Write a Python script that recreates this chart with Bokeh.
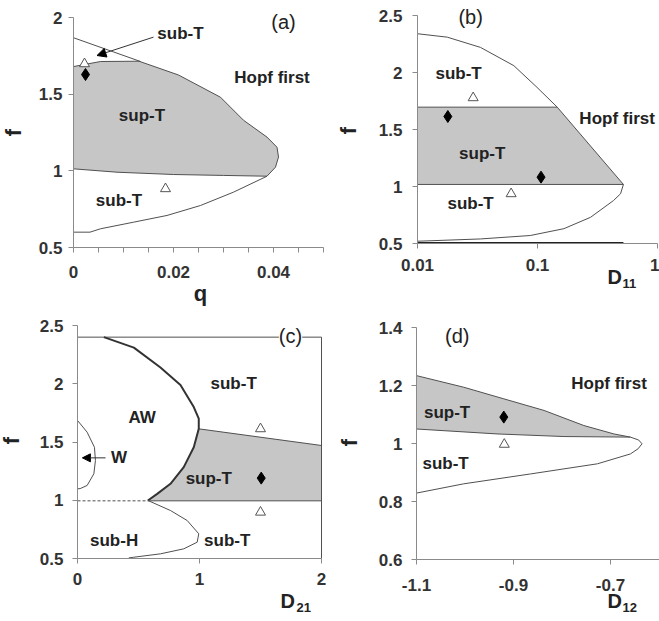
from math import pi, log10
from bokeh.plotting import figure
from bokeh.layouts import gridplot
from bokeh.models import Range1d, Label, Arrow, NormalHead, FixedTicker
from bokeh.embed import file_html
from bokeh.resources import INLINE

# ---------------- data: panel (a) ----------------
a_line_q = [0.0, 0.0134]
a_line_f = [1.868, 1.713]
a_sup_q = [0.0, 0.0054, 0.0131, 0.021, 0.0294, 0.034, 0.0387, 0.0407, 0.041, 0.0404, 0.0387,
           0.030, 0.020, 0.0087, 0.0]
a_sup_f = [1.68, 1.713, 1.715, 1.625, 1.48, 1.33, 1.22, 1.154, 1.09, 1.024, 0.965,
           0.970, 0.976, 0.991, 1.013]
a_low_q = [0.0387, 0.032, 0.0254, 0.0187, 0.012, 0.0054, 0.0033, 0.0]
a_low_f = [0.965, 0.861, 0.774, 0.709, 0.665, 0.622, 0.60, 0.60]
a_tri_q = [0.0022, 0.0184]
a_tri_f = [1.698, 0.883]
a_dia_q = [0.0024]
a_dia_f = [1.628]

# ---------------- data: panel (b) ----------------
b_up_D = [0.01, 0.0177, 0.0335, 0.0635, 0.099, 0.146]
b_up_f = [2.34, 2.31, 2.22, 2.06, 1.87, 1.696]
b_sup_D = [0.01, 0.146, 0.52, 0.01]
b_sup_f = [1.696, 1.696, 1.018, 1.018]
b_low_D = [0.52, 0.492, 0.43, 0.277, 0.166, 0.087, 0.0335, 0.01]
b_low_f = [1.018, 0.936, 0.877, 0.73, 0.63, 0.57, 0.54, 0.52]
b_base_D = [0.01, 0.52]
b_base_f = [0.505, 0.505]
b_tri_D = [0.0291, 0.0603]
b_tri_f = [1.778, 0.936]
b_dia_D = [0.0179, 0.107]
b_dia_f = [1.614, 1.082]

# ---------------- data: panel (c) ----------------
c_top_D = [0.0, 2.0]
c_top_f = [2.4, 2.4]
c_right_D = [2.0, 2.0]
c_right_f = [0.5, 2.4]
c_aw_D = [0.216, 0.462, 0.68, 0.844, 0.953, 0.994, 0.994, 0.953, 0.871, 0.762, 0.653, 0.577]
c_aw_f = [2.4, 2.31, 2.14, 1.99, 1.80, 1.70, 1.613, 1.455, 1.284, 1.141, 1.055, 0.998]
c_sup_D = [0.994, 2.0, 2.0, 0.577, 0.653, 0.762, 0.871, 0.953]
c_sup_f = [1.613, 1.47, 0.995, 0.995, 1.055, 1.141, 1.284, 1.455]
c_supline_D = [0.994, 2.0]
c_supline_f = [1.613, 1.47]
c_bot_D = [0.577, 2.0]
c_bot_f = [0.995, 0.995]
c_dash_D = [0.0, 0.577]
c_dash_f = [0.995, 0.995]
c_low_D = [0.577, 0.762, 0.899, 0.994, 0.981, 0.871, 0.68, 0.462, 0.42]
c_low_f = [0.998, 0.912, 0.826, 0.712, 0.64, 0.583, 0.54, 0.511, 0.505]
c_w_D = [0.0, 0.079, 0.139, 0.147, 0.134, 0.079, 0.022, 0.0]
c_w_f = [1.685, 1.584, 1.455, 1.34, 1.227, 1.127, 1.10, 1.098]
c_tri_D = [1.5, 1.5]
c_tri_f = [1.613, 0.897]
c_dia_D = [1.506]
c_dia_f = [1.19]

# ---------------- data: panel (d) ----------------
d_up_D = [-1.1, -1.0025, -0.92, -0.837, -0.755, -0.693, -0.659]
d_up_f = [1.234, 1.194, 1.154, 1.114, 1.062, 1.033, 1.022]
d_mid_D = [-0.659, -0.796, -0.934, -1.1]
d_mid_f = [1.022, 1.024, 1.033, 1.05]
d_low_D = [-0.659, -0.642, -0.635, -0.643, -0.659, -0.727, -0.865, -1.0025, -1.1]
d_low_f = [1.022, 1.012, 0.999, 0.982, 0.964, 0.93, 0.895, 0.861, 0.829]
d_tri_D = [-0.919]
d_tri_f = [0.997]
d_dia_D = [-0.92]
d_dia_f = [1.091]

# ---------------- ticks ----------------
a_xticks = [0.0, 0.005, 0.01, 0.015, 0.02, 0.025, 0.03, 0.035, 0.04, 0.045, 0.05]
a_xlabels = ["0", "", "", "", "0.02", "", "", "", "0.04", "", ""]
a_yticks = [0.5, 1.0, 1.5, 2.0]
a_ylabels = ["0.5", "1", "1.5", "2"]
b_xticks = [0.01, 0.1, 1.0]
b_xlabels = ["0.01", "0.1", "1"]
b_yticks = [0.5, 1.0, 1.5, 2.0, 2.5]
b_ylabels = ["0.5", "1", "1.5", "2", "2.5"]
c_xticks = [0.0, 1.0, 2.0]
c_xlabels = ["0", "1", "2"]
c_yticks = [0.5, 1.0, 1.5, 2.0, 2.5]
c_ylabels = ["0.5", "1", "1.5", "2", "2.5"]
d_xticks = [-1.1, -0.9, -0.7]
d_xlabels = ["-1.1", "-0.9", "-0.7"]
d_yticks = [0.6, 0.8, 1.0, 1.2, 1.4]
d_ylabels = ["0.6", "0.8", "1", "1.2", "1.4"]

FONT = "Liberation Sans"
LINE = "#505050"
FILL = "#c6c6c6"
TXT = "#222222"
AX = "#8a8a8a"


class Panel:
    """Maps page pixels to data values for one figure whose frame fills its canvas."""

    def __init__(self, left, top, w, h, xa, ya, xlog=False):
        self.left, self.top, self.w, self.h = left, top, w, h
        self.xa, self.ya, self.xlog = xa, ya, xlog

    def x(self, px):
        p0, v0, s = self.xa
        if self.xlog:
            return v0 * 10 ** ((px - p0) / s)
        return v0 + (px - p0) / s

    def y(self, py):
        p0, v0, s = self.ya
        return v0 + (p0 - py) / s


def make_fig(P, xb, yb, xticks, xlabels, yticks, ylabels, xstand, ystand):
    p = figure(width=P.w, height=P.h,
               x_range=Range1d(P.x(P.left), P.x(P.left + P.w)),
               y_range=Range1d(P.y(P.top + P.h), P.y(P.top)),
               x_axis_type="log" if P.xlog else "linear",
               output_backend="svg", toolbar_location=None,
               min_border_left=0, min_border_right=0, min_border_top=0, min_border_bottom=0)
    p.grid.visible = False
    p.outline_line_color = None
    p.background_fill_color = "white"
    p.border_fill_color = "white"
    p.xaxis.ticker = FixedTicker(ticks=xticks)
    p.yaxis.ticker = FixedTicker(ticks=yticks)
    p.xaxis.major_label_overrides = {t: l for t, l in zip(xticks, xlabels)}
    p.yaxis.major_label_overrides = {t: l for t, l in zip(yticks, ylabels)}
    p.xaxis.fixed_location = yb[0]
    p.yaxis.fixed_location = xb[0]
    p.xaxis.bounds = xb
    p.yaxis.bounds = yb
    p.xaxis.major_label_standoff = xstand
    p.yaxis.major_label_standoff = ystand
    for ax in p.axis:
        ax.axis_line_color = AX
        ax.major_tick_line_color = AX
        ax.minor_tick_line_color = None
        ax.major_tick_in = 0
        ax.major_tick_out = 5
        ax.major_label_text_font = FONT
        ax.major_label_text_font_style = "bold"
        ax.major_label_text_font_size = "17px"
        ax.major_label_text_color = "#333333"
    return p


def txt(p, x, y, s, size="17px", bold=True, align="center", angle=0.0, bg=None):
    lab = Label(x=x, y=y, text=s, text_font=FONT, text_font_size=size,
                text_font_style="bold" if bold else "normal", text_color=TXT,
                text_align=align, text_baseline="middle", angle=angle)
    if bg:
        lab.background_fill_color = bg
    p.add_layout(lab)


def ptxt(p, P, px, py, s, **kw):
    txt(p, P.x(px), P.y(py), s, **kw)


def tri(p, x, y):
    p.scatter(x, y, marker="triangle", size=10, fill_color="white", line_color="#555555", line_width=1)


def dia(p, x, y):
    p.scatter(x, y, marker="diamond", size=12, fill_color="black", line_color="black")


# ---------------- panel (a) ----------------
PA = Panel(0, 0, 335, 308, (73, 0.0, 5000.0), (247, 0.5, 153.33))
pa = make_fig(PA, (0.0, 0.05), (0.5, 2.0), a_xticks, a_xlabels, a_yticks, a_ylabels, 13, 6)
pa.patch(a_sup_q, a_sup_f, fill_color=FILL, line_color=LINE, line_width=1)
pa.line(a_line_q, a_line_f, line_color=LINE, line_width=1)
pa.line(a_low_q, a_low_f, line_color=LINE, line_width=1)
tri(pa, a_tri_q, a_tri_f)
dia(pa, a_dia_q, a_dia_f)
pa.add_layout(Arrow(end=NormalHead(size=9, fill_color="black", line_color="black"),
                    x_start=0.016, y_start=1.872, x_end=0.0047, y_end=1.752,
                    line_color="#333333", line_width=1))
txt(pa, 0.0214, 1.895, "sub-T")
txt(pa, 0.0397, 1.607, "Hopf first")
txt(pa, 0.0137, 1.36, "sup-T")
txt(pa, 0.0091, 0.807, "sub-T")
txt(pa, 0.042, 1.97, "(a)", size="20px", bold=False)
ptxt(pa, PA, 200, 293, "q", size="22px")
ptxt(pa, PA, 13, 132, "f", size="22px", angle=pi / 2)

# ---------------- panel (b) ----------------
PB = Panel(335, 0, 324, 308, (417, 0.01, 120.0), (243, 0.5, 114.0), xlog=True)
pb = make_fig(PB, (0.01, 1.0), (0.5, 2.5), b_xticks, b_xlabels, b_yticks, b_ylabels, 10, 10)
pb.patch(b_sup_D, b_sup_f, fill_color=FILL, line_color=LINE, line_width=1)
pb.line(b_up_D, b_up_f, line_color=LINE, line_width=1)
pb.line(b_low_D, b_low_f, line_color=LINE, line_width=1)
pb.line(b_base_D, b_base_f, line_color="#222222", line_width=2)
tri(pb, b_tri_D, b_tri_f)
dia(pb, b_dia_D, b_dia_f)
txt(pb, 0.022, 1.994, "sub-T")
txt(pb, 0.0346, 1.287, "sup-T")
txt(pb, 0.0277, 0.848, "sub-T")
txt(pb, 0.461, 1.594, "Hopf first")
txt(pb, 0.0277, 2.485, "(b)", size="20px", bold=False)
ptxt(pb, PB, 348, 130, "f", size="22px", angle=pi / 2)
ptxt(pb, PB, 607, 276, "D", size="20px", align="left")
ptxt(pb, PB, 622, 283, "11", size="13px", align="left")

# ---------------- panel (c) ----------------
PC = Panel(0, 308, 335, 313, (77, 0.0, 122.0), (558, 0.5, 116.5))
pc = make_fig(PC, (0.0, 2.0), (0.5, 2.5), c_xticks, c_xlabels, c_yticks, c_ylabels, 9, 9)
pc.patch(c_sup_D, c_sup_f, fill_color=FILL, line_color=None)
pc.line(c_top_D, c_top_f, line_color=LINE, line_width=1)
pc.line(c_right_D, c_right_f, line_color=LINE, line_width=1)
pc.line(c_supline_D, c_supline_f, line_color=LINE, line_width=1)
pc.line(c_bot_D, c_bot_f, line_color=LINE, line_width=1)
pc.line(c_aw_D, c_aw_f, line_color="#333333", line_width=2)
pc.line(c_dash_D, c_dash_f, line_color=LINE, line_width=1, line_dash="3 2")
pc.line(c_low_D, c_low_f, line_color=LINE, line_width=1)
pc.line(c_w_D, c_w_f, line_color=LINE, line_width=1)
tri(pc, c_tri_D, c_tri_f)
dia(pc, c_dia_D, c_dia_f)
pc.add_layout(Arrow(end=NormalHead(size=8, fill_color="black", line_color="black"),
                    x_start=0.23, y_start=1.364, x_end=0.04, y_end=1.364,
                    line_color="#333333", line_width=1))
txt(pc, 0.34, 1.37, "W")
txt(pc, 0.53, 1.71, "AW")
txt(pc, 1.28, 2.0, "sub-T")
txt(pc, 1.076, 1.184, "sup-T")
txt(pc, 1.227, 0.655, "sub-T")
txt(pc, 0.30, 0.655, "sub-H")
txt(pc, 1.746, 2.414, "(c)", size="20px", bold=False, bg="white")
ptxt(pc, PC, 11, 440, "f", size="22px", angle=pi / 2)
ptxt(pc, PC, 280, 600, "D", size="20px", align="left")
ptxt(pc, PC, 296, 607, "21", size="13px", align="left")

# ---------------- panel (d) ----------------
PD = Panel(335, 308, 324, 313, (416, -1.1, 485.0), (559, 0.6, 290.0))
pd_ = make_fig(PD, (-1.1, -0.6), (0.6, 1.4), d_xticks, d_xlabels, d_yticks, d_ylabels, 14, 9)
pd_.patch(d_up_D + d_mid_D[1:], d_up_f + d_mid_f[1:], fill_color=FILL, line_color=LINE, line_width=1)
pd_.line(d_low_D, d_low_f, line_color=LINE, line_width=1)
tri(pd_, d_tri_D, d_tri_f)
dia(pd_, d_dia_D, d_dia_f)
txt(pd_, -1.037, 1.108, "sup-T")
txt(pd_, -1.04, 0.932, "sub-T")
txt(pd_, -0.703, 1.206, "Hopf first")
txt(pd_, -1.016, 1.372, "(d)", size="20px", bold=False)
ptxt(pd_, PD, 349, 442, "f", size="22px", angle=pi / 2)
ptxt(pd_, PD, 607, 600, "D", size="20px", align="left")
ptxt(pd_, PD, 622, 607, "12", size="13px", align="left")

grid = gridplot([[pa, pb], [pc, pd_]], toolbar_location=None)
open("out.html", "w").write(file_html(grid, INLINE))
